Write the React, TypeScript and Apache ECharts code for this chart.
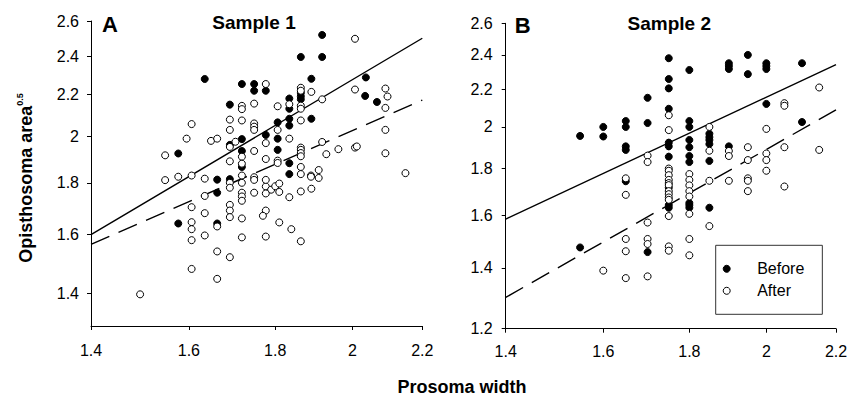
import { useEffect, useRef } from "react";
import * as echarts from "echarts";

const FONT = "'Liberation Sans', Arial, Helvetica, sans-serif";

const xTicks = [1.4, 1.6, 1.8, 2, 2.2];
const yTicks1 = [1.4, 1.6, 1.8, 2, 2.2, 2.4, 2.6];
const yTicks2 = [1.2, 1.4, 1.6, 1.8, 2, 2.2, 2.4, 2.6];
const xRange = [1.4, 2.2];
const yRange1 = [1.3, 2.6];
const yRange2 = [1.2, 2.6];

const sample1Before: [number, number][] = [
  [1.577, 1.924], [1.635, 2.279], [1.692, 2.15], [1.692, 1.962], [1.692, 1.815],
  [1.663, 1.813], [1.663, 1.76], [1.577, 1.641], [1.663, 1.641], [1.72, 2.253],
  [1.749, 2.253], [1.749, 2.219], [1.777, 2.219], [1.72, 1.988], [1.72, 1.935],
  [1.72, 1.866], [1.777, 2.007], [1.806, 2.065], [1.806, 1.99], [1.806, 1.94],
  [1.835, 1.882], [1.835, 1.836], [1.835, 2.18], [1.835, 2.13], [1.835, 2.082],
  [1.835, 2.05], [1.864, 2.208], [1.864, 2.191], [1.864, 2.176], [1.864, 2.396],
  [1.919, 2.396], [1.919, 2.519], [1.891, 2.28], [1.891, 2.082], [2.037, 2.287],
  [2.035, 2.193], [2.068, 2.163],
];

const sample1After: [number, number][] = [
  [1.497, 1.397], [1.549, 1.916], [1.549, 1.811], [1.577, 1.825], [1.595, 1.99],
  [1.606, 2.057], [1.606, 1.83], [1.635, 1.817], [1.649, 1.98], [1.663, 1.99],
  [1.692, 2.078], [1.692, 2.03], [1.692, 1.953], [1.692, 1.89], [1.692, 1.8],
  [1.705, 1.976], [1.72, 2.144], [1.72, 2.128], [1.72, 2.074], [1.72, 1.91],
  [1.72, 1.88], [1.72, 1.83], [1.72, 1.8], [1.749, 2.155], [1.749, 2.06],
  [1.749, 2.045], [1.749, 2.03], [1.749, 1.935], [1.749, 1.823], [1.777, 2.253],
  [1.777, 1.97], [1.777, 1.9], [1.806, 2.142], [1.806, 2.03], [1.806, 1.893],
  [1.806, 1.883], [1.864, 2.234], [1.864, 2.219], [1.864, 2.145], [1.864, 2.13],
  [1.864, 2.074], [1.864, 1.95], [1.864, 1.94], [1.864, 1.926], [1.864, 1.912],
  [1.864, 1.866], [1.864, 1.836], [1.835, 2.152], [1.835, 1.99], [1.891, 2.213],
  [1.919, 2.176], [1.919, 1.975], [1.93, 1.921], [1.962, 1.943], [2.007, 2.497],
  [2.007, 2.225], [2.007, 1.95], [2.012, 1.955], [2.092, 2.23], [2.098, 2.19],
  [2.092, 2.134], [2.092, 2.03], [2.092, 1.925], [2.15, 1.84], [1.89, 1.83],
  [1.91, 1.853], [1.635, 1.747], [1.606, 1.703], [1.635, 1.68], [1.606, 1.646],
  [1.606, 1.62], [1.606, 1.58], [1.635, 1.597], [1.663, 1.63], [1.606, 1.48],
  [1.663, 1.54], [1.692, 1.52], [1.663, 1.447], [1.692, 1.78], [1.692, 1.712],
  [1.692, 1.69], [1.692, 1.665], [1.72, 1.76], [1.72, 1.745], [1.72, 1.728],
  [1.72, 1.66], [1.72, 1.59], [1.749, 1.812], [1.749, 1.76], [1.777, 1.785],
  [1.79, 1.772], [1.777, 1.757], [1.777, 1.69], [1.77, 1.67], [1.777, 1.593],
  [1.89, 1.825], [1.91, 1.82], [1.8, 1.786], [1.81, 1.797], [1.81, 1.763],
  [1.835, 1.742], [1.864, 1.765], [1.891, 1.776], [1.81, 1.645], [1.84, 1.62],
  [1.864, 1.576], [1.777, 1.812],
];

const sample2Before: [number, number][] = [
  [1.55, 1.955], [1.6, 2.0], [1.6, 1.952], [1.65, 2.03], [1.65, 2.0],
  [1.65, 1.904], [1.65, 1.887], [1.65, 1.743], [1.7, 2.153], [1.7, 2.02],
  [1.7, 1.457], [1.75, 2.38], [1.75, 2.258], [1.75, 2.205], [1.75, 2.094],
  [1.75, 1.922], [1.75, 1.904], [1.75, 1.855], [1.75, 1.641], [1.75, 1.63],
  [1.75, 1.715], [1.8, 2.31], [1.8, 2.03], [1.8, 2.0], [1.8, 1.935],
  [1.8, 1.9], [1.8, 1.858], [1.8, 1.83], [1.8, 1.65], [1.8, 1.641],
  [1.8, 1.63], [1.85, 1.966], [1.85, 1.949], [1.85, 1.935], [1.85, 1.915],
  [1.85, 1.835], [1.85, 1.63], [1.9, 2.35], [1.9, 2.334], [1.9, 2.316],
  [1.9, 1.904], [1.95, 2.4], [1.95, 2.286], [2.0, 2.35], [2.0, 2.333],
  [2.0, 2.316], [2.0, 2.12], [2.1, 2.35], [2.1, 2.025], [1.55, 1.474],
];

const sample2After: [number, number][] = [
  [1.6, 1.39], [1.65, 1.756], [1.65, 1.684], [1.65, 1.506], [1.65, 1.46],
  [1.65, 1.364], [1.7, 1.86], [1.7, 1.83], [1.7, 1.57], [1.7, 1.506],
  [1.7, 1.487], [1.7, 1.37], [1.75, 2.06], [1.75, 1.984], [1.75, 1.8],
  [1.75, 1.79], [1.75, 1.77], [1.75, 1.749], [1.75, 1.735], [1.75, 1.726],
  [1.75, 1.7], [1.75, 1.687], [1.75, 1.673], [1.75, 1.663], [1.75, 1.596],
  [1.75, 1.478], [1.75, 1.462], [1.8, 1.775], [1.8, 1.749], [1.8, 1.725],
  [1.8, 1.7], [1.8, 1.677], [1.8, 1.605], [1.8, 1.506], [1.8, 1.445],
  [1.85, 2.0], [1.85, 1.883], [1.85, 1.745], [1.85, 1.556], [1.9, 1.882],
  [1.9, 1.858], [1.9, 1.745], [1.95, 1.9], [1.95, 1.839], [1.95, 1.756],
  [1.95, 1.745], [1.95, 1.7], [2.0, 1.99], [2.0, 1.87], [2.0, 1.839],
  [2.0, 1.79], [2.05, 2.124], [2.05, 2.11], [2.05, 1.9], [2.05, 1.72],
  [2.15, 2.21], [2.15, 1.887],
];

// fitted lines: value at x = 1.4 and at x = 2.2
const sample1FitBefore = [1.6, 2.5];
const sample1FitAfter = [1.565, 2.172];
const sample2FitBefore = [1.584, 2.342];
const sample2FitAfter = [1.299, 2.088];

const L = Math.log;
const toLog = (pts: [number, number][]) => pts.map(([x, y]) => [L(x), L(y)]);
const fitLine = (ends: number[]) => [
  [L(xRange[0]), L(ends[0])],
  [L(xRange[1]), L(ends[1])],
];
const fmt = (v: number) => String(parseFloat(Math.exp(v).toFixed(2)));

function makeX(gridIndex: number, margin: number) {
  const cv = xTicks.map(L);
  return {
    type: "value",
    gridIndex,
    min: L(xRange[0]),
    max: L(xRange[1]),
    axisLine: { show: true, onZero: false, lineStyle: { color: "#000", width: 1 } },
    axisTick: { show: true, customValues: cv, length: 4, lineStyle: { color: "#000", width: 1 } },
    axisLabel: { customValues: cv, formatter: fmt, fontSize: 16, color: "#000", fontFamily: FONT, margin },
    splitLine: { show: false },
  };
}
function makeY(gridIndex: number, range: number[], ticks: number[], margin: number) {
  const cv = ticks.map(L);
  return {
    type: "value",
    gridIndex,
    min: L(range[0]),
    max: L(range[1]),
    axisLine: { show: true, onZero: false, lineStyle: { color: "#000", width: 1 } },
    axisTick: { show: true, customValues: cv, length: 4, lineStyle: { color: "#000", width: 1 } },
    axisLabel: { customValues: cv, formatter: fmt, fontSize: 16, color: "#000", fontFamily: FONT, margin },
    splitLine: { show: false },
  };
}

function scatter(name: string, data: [number, number][], idx: number, filled: boolean) {
  return {
    type: "scatter",
    name,
    xAxisIndex: idx,
    yAxisIndex: idx,
    data: toLog(data),
    symbol: "circle",
    symbolSize: 7,
    z: 3,
    silent: true,
    itemStyle: {
      color: filled ? "#000" : "#fff",
      borderColor: "#000",
      borderWidth: 1,
      opacity: 1,
    },
  };
}
function line(name: string, ends: number[], idx: number, dashed: boolean) {
  return {
    type: "line",
    name,
    xAxisIndex: idx,
    yAxisIndex: idx,
    data: fitLine(ends),
    symbol: "none",
    showSymbol: false,
    silent: true,
    z: 2,
    lineStyle: { color: "#000", width: 1.4, type: dashed ? [20, 10] : "solid" },
  };
}

export default function App() {
  const ref = useRef<HTMLDivElement>(null);
  useEffect(() => {
    if (!ref.current) return;
    const chart = echarts.init(ref.current, null, { renderer: "svg" });
    const boldText = (text: string, x: number, y: number, size: number) => ({
      type: "text",
      x,
      y,
      style: {
        text,
        fill: "#000",
        font: `bold ${size}px ${FONT}`,
        align: "center",
        verticalAlign: "middle",
        textAlign: "center",
        textVerticalAlign: "middle",
      },
    });
    chart.setOption({
      animation: false,
      backgroundColor: "#fff",
      grid: [
        { left: 91, top: 21, width: 331.3, height: 305, outerBoundsMode: "none" },
        { left: 505.7, top: 23.3, width: 330.3, height: 305.4, outerBoundsMode: "none" },
      ],
      xAxis: [makeX(0, 16), makeX(1, 15)],
      yAxis: [makeY(0, yRange1, yTicks1, 12), makeY(1, yRange2, yTicks2, 13)],
      legend: {
        data: ["Before", "After"],
        orient: "vertical",
        left: 715.7,
        top: 245.3,
        itemWidth: 51,
        itemHeight: 7,
        itemGap: 6,
        padding: [15.5, 18, 15.5, 7],
        borderColor: "#333",
        borderWidth: 1,
        backgroundColor: "#fff",
        selectedMode: false,
        itemStyle: { borderWidth: 1 },
        textStyle: { fontSize: 16, color: "#000", fontFamily: FONT, lineHeight: 16 },
      },
      graphic: [
        boldText("A", 110, 24.5, 22),
        boldText("Sample 1", 254, 22, 19),
        boldText("B", 522.7, 25.8, 22),
        boldText("Sample 2", 669.3, 23.5, 19),
        boldText("Prosoma width", 462, 386.5, 18),
        {
          type: "text",
          x: 26,
          y: 178,
          rotation: Math.PI / 2,
          style: {
            text: "{a|Opisthosoma area}{b|0.5}",
            fill: "#000",
            align: "center",
            verticalAlign: "middle",
            textAlign: "center",
            textVerticalAlign: "middle",
            rich: {
              a: { font: `bold 18px ${FONT}`, fill: "#000", lineHeight: 22 },
              b: { font: `bold 9px ${FONT}`, fill: "#000", lineHeight: 10, verticalAlign: "top" },
            },
          },
        },
      ],
      series: [
        line("fitA1", sample1FitBefore, 0, false),
        line("fitA2", sample1FitAfter, 0, true),
        scatter("Before", sample1Before, 0, true),
        scatter("After", sample1After, 0, false),
        line("fitB1", sample2FitBefore, 1, false),
        line("fitB2", sample2FitAfter, 1, true),
        scatter("Before", sample2Before, 1, true),
        scatter("After", sample2After, 1, false),
      ],
    });
    return () => chart.dispose();
  }, []);
  return (
    <div
      ref={ref}
      style={{ position: "fixed", left: 0, top: 0, width: 861, height: 395, background: "#fff" }}
    />
  );
}
